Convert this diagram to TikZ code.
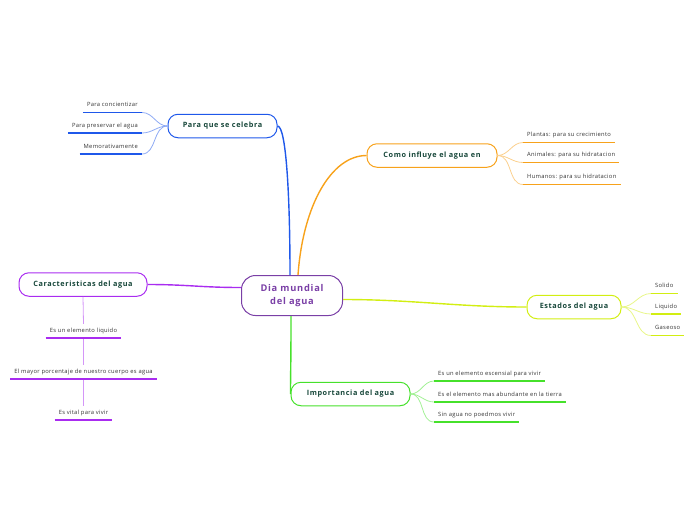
\documentclass[tikz,border=0pt]{standalone}
\usepackage{fontspec}
\setmainfont{Open Sans}
\newfontfamily\leaffont[LetterSpace=5]{Open Sans}
\newfontfamily\topicfont[LetterSpace=8]{Open Sans}
\usetikzlibrary{positioning}

\definecolor{txtgreen}{HTML}{17473A}
\definecolor{rootpurple}{HTML}{7A3FA6}
\definecolor{celebblue}{HTML}{1F58EA}
\definecolor{influorange}{HTML}{F7A21B}
\definecolor{caracviolet}{HTML}{A92CF0}
\definecolor{estyellow}{HTML}{D2EE12}
\definecolor{impgreen}{HTML}{46E12B}

\begin{document}
\begin{tikzpicture}[
x=1pt, y=-1pt,
root/.style={draw=rootpurple, line width=1pt, rounded corners=14pt, minimum width=101pt, minimum height=40pt, align=center, text=rootpurple, font=\topicfont\fontsize{9.3}{13.5}\selectfont\bfseries},
topic/.style={draw=#1, line width=1pt, rounded corners=10pt, minimum height=23.5pt, text=txtgreen, font=\topicfont\fontsize{7.3}{8}\selectfont\bfseries},
leaf/.style={inner xsep=4pt, inner ysep=4pt, text height=4.3pt, text depth=1.4pt, text=black!80, font=\leaffont\fontsize{5.8}{6.5}\selectfont},
uline/.style={draw=#1, line width=1.6pt},
twig/.style={draw=#1!50, line width=0.8pt},
branch/.style={draw=#1, line width=1.4pt}
]
\useasboundingbox (0,0) rectangle (696,520);

\node[root] (root) at (292,295.5) {Dia mundial\\del agua};

\node[topic=celebblue, minimum width=109pt] (celeb) at (222.5,126) {Para que se celebra};
\node[topic=influorange, minimum width=130pt] (influ) at (432,155.5) {Como influye el agua en};
\node[topic=caracviolet, minimum width=128pt] (carac) at (83,284.5) {Caracteristicas del agua};
\node[topic=estyellow, minimum width=94pt] (estados) at (574,307) {Estados del agua};
\node[topic=impgreen, minimum width=119pt] (imp) at (350.5,394) {Importancia del agua};

% para que se celebra
\node[leaf, anchor=south east] (c1) at (142,112.5) {Para concientizar};
\node[leaf, anchor=south east] (c2) at (142,133) {Para preservar el agua};
\node[leaf, anchor=south east] (c3) at (142,154) {Memorativamente};

% como influye
\node[leaf, anchor=south west] (i1) at (523,142.5) {Plantas: para su crecimiento};
\node[leaf, anchor=south west] (i2) at (523,162.5) {Animales: para su hidratacion};
\node[leaf, anchor=south west] (i3) at (523,184.5) {Humanos: para su hidratacion};

% caracteristicas
\node[leaf, anchor=south] (k1) at (83.5,338) {Es un elemento liquido};
\node[leaf, anchor=south] (k2) at (83.5,379) {El mayor porcentaje de nuestro cuerpo es agua};
\node[leaf, anchor=south] (k3) at (83.5,420) {Es vital para vivir};

% estados
\node[leaf, anchor=south west] (e1) at (651,293.5) {Solido};
\node[leaf, anchor=south west] (e2) at (651,314) {Liquido};
\node[leaf, anchor=south west] (e3) at (651,335.5) {Gaseoso};

% importancia
\node[leaf, anchor=south west] (m1) at (434,381) {Es un elemento escensial para vivir};
\node[leaf, anchor=south west] (m2) at (434,402) {Es el elemento mas abundante en la tierra};
\node[leaf, anchor=south west] (m3) at (434,422) {Sin agua no poedmos vivir};

% main branches
\draw[branch=celebblue] ([xshift=-2pt]root.north) .. controls +(0,-75) and +(9,0) .. (celeb.east);
\draw[branch=influorange] ([xshift=6pt]root.north) .. controls +(5,-70) and +(-35,0) .. (influ.west);
\draw[branch=caracviolet] ([yshift=8pt]root.west) .. controls +(-40,0) and +(40,0) .. (carac.east);
\draw[branch=estyellow] ([yshift=-4pt]root.east) .. controls +(70,0) and +(-70,0) .. (estados.west);
\draw[branch=impgreen] ([xshift=-1pt]root.south) .. controls +(0,50) and +(0,-20) .. (imp.west);

% twigs
\draw[twig=celebblue] (celeb.west) to[out=180,in=0] (c1.south east);
\draw[twig=celebblue] (celeb.west) to[out=180,in=0] (c2.south east);
\draw[twig=celebblue] (celeb.west) to[out=180,in=0] (c3.south east);
\draw[twig=influorange] (influ.east) to[out=0,in=180] (i1.south west);
\draw[twig=influorange] (influ.east) to[out=0,in=180] (i2.south west);
\draw[twig=influorange] (influ.east) to[out=0,in=180] (i3.south west);
\draw[twig=caracviolet] (carac.south) -- (k1.north);
\draw[twig=caracviolet] (k1.south) -- (k2.north);
\draw[twig=caracviolet] (k2.south) -- (k3.north);
\draw[twig=estyellow] (estados.east) to[out=0,in=180] (e1.south west);
\draw[twig=estyellow] (estados.east) to[out=0,in=180] (e2.south west);
\draw[twig=estyellow] (estados.east) to[out=0,in=180] (e3.south west);
\draw[twig=impgreen] (imp.east) to[out=0,in=180] (m1.south west);
\draw[twig=impgreen] (imp.east) to[out=0,in=180] (m2.south west);
\draw[twig=impgreen] (imp.east) to[out=0,in=180] (m3.south west);

% underlines
\draw[uline=celebblue] (c1.south west) -- (c1.south east);
\draw[uline=celebblue] (c2.south west) -- (c2.south east);
\draw[uline=celebblue] (c3.south west) -- (c3.south east);
\draw[uline=influorange] (i1.south west) -- (i1.south east);
\draw[uline=influorange] (i2.south west) -- (i2.south east);
\draw[uline=influorange] (i3.south west) -- (i3.south east);
\draw[uline=caracviolet] (k1.south west) -- (k1.south east);
\draw[uline=caracviolet] (k2.south west) -- (k2.south east);
\draw[uline=caracviolet] (k3.south west) -- (k3.south east);
\draw[uline=estyellow] (e1.south west) -- (e1.south east);
\draw[uline=estyellow] (e2.south west) -- (e2.south east);
\draw[uline=estyellow] (e3.south west) -- (e3.south east);
\draw[uline=impgreen] (m1.south west) -- (m1.south east);
\draw[uline=impgreen] (m2.south west) -- (m2.south east);
\draw[uline=impgreen] (m3.south west) -- (m3.south east);
\end{tikzpicture}
\end{document}
